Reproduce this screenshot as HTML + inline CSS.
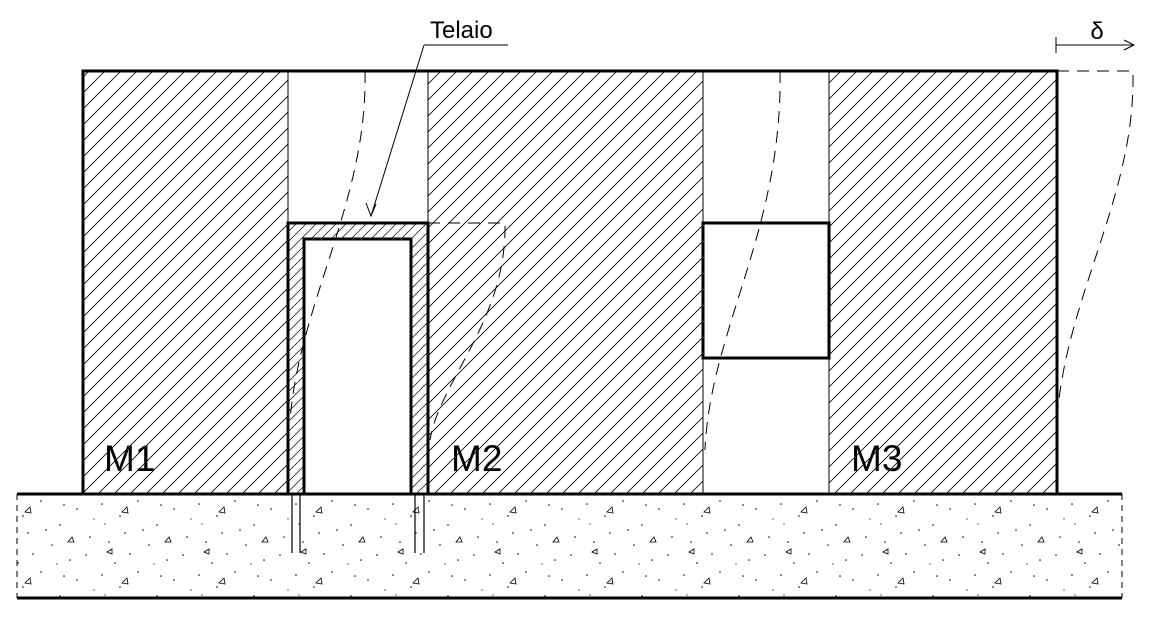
<!DOCTYPE html>
<html><head><meta charset="utf-8"><style>
html,body{margin:0;padding:0;background:#fff;}
svg{display:block;}
text{font-family:"Liberation Sans",sans-serif;}
</style></head><body>
<svg width="1149" height="619" viewBox="0 0 1149 619" xmlns="http://www.w3.org/2000/svg">
<defs>
<pattern id="h" patternUnits="userSpaceOnUse" width="16" height="16">
<path d="M-2,18 L18,-2 M-4,4 L4,-4 M12,20 L20,12" stroke="#000" stroke-width="0.8"/>
</pattern>
<pattern id="hf" patternUnits="userSpaceOnUse" width="10" height="10">
<path d="M-2,12 L12,-2 M-3,3 L3,-3 M7,13 L13,7" stroke="#000" stroke-width="0.7"/>
</pattern>
<pattern id="c" patternUnits="userSpaceOnUse" width="97" height="71">
<g fill="#000">
<circle cx="5" cy="7" r="0.8"/><circle cx="23" cy="19" r="0.8"/><circle cx="41" cy="4" r="0.8"/>
<circle cx="60" cy="28" r="0.8"/><circle cx="77" cy="12" r="0.8"/><circle cx="90" cy="40" r="0.8"/>
<circle cx="12" cy="45" r="0.8"/><circle cx="33" cy="57" r="0.8"/><circle cx="52" cy="48" r="0.8"/>
<circle cx="70" cy="63" r="0.8"/><circle cx="86" cy="58" r="0.8"/><circle cx="18" cy="66" r="0.8"/>
<circle cx="46" cy="33" r="0.8"/><circle cx="64" cy="8" r="0.8"/><circle cx="28" cy="36" r="0.8"/>
<circle cx="8" cy="27" r="0.6"/><circle cx="94" cy="22" r="0.6"/><circle cx="57" cy="67" r="0.6"/>
</g>
<g fill="none" stroke="#000" stroke-width="0.8">
<path d="M30,10 l-5,5 l6,1 z"/><path d="M72,40 l-4,5 l6,0 z"/><path d="M10,55 l5,-3 l0,5 z"/>
</g>
</pattern>
</defs>
<rect x="17" y="494" width="1105" height="104" fill="url(#c)"/>
<line x1="17" y1="598" x2="1122" y2="598" stroke="#000" stroke-width="3"/>
<line x1="17" y1="494" x2="17" y2="598" stroke="#000" stroke-width="1" stroke-dasharray="6,5"/>
<line x1="1122" y1="494" x2="1122" y2="598" stroke="#000" stroke-width="1" stroke-dasharray="6,5"/>
<rect x="83" y="71" width="205" height="423" fill="url(#h)"/>
<rect x="428" y="71" width="275" height="423" fill="url(#h)"/>
<rect x="829" y="71" width="228" height="423" fill="url(#h)"/>
<path d="M288,223 H428 V494 H411 V239 H304 V494 H288 Z" fill="url(#hf)"/>
<rect x="703" y="223" width="126" height="135" fill="#fff" stroke="#000" stroke-width="3"/>
<path d="M288,494 V223 H428 V494" fill="none" stroke="#000" stroke-width="3"/>
<path d="M304,494 V239 H411 V494" fill="none" stroke="#000" stroke-width="3"/>
<path d="M83,494 V71 H1057 V494" fill="none" stroke="#000" stroke-width="3"/>
<line x1="288" y1="71" x2="288" y2="223" stroke="#000" stroke-width="1"/>
<line x1="428" y1="71" x2="428" y2="223" stroke="#000" stroke-width="1"/>
<line x1="703" y1="71" x2="703" y2="223" stroke="#000" stroke-width="1"/>
<line x1="829" y1="71" x2="829" y2="223" stroke="#000" stroke-width="1"/>
<line x1="703" y1="358" x2="703" y2="494" stroke="#000" stroke-width="1"/>
<line x1="829" y1="358" x2="829" y2="494" stroke="#000" stroke-width="1"/>
<line x1="17" y1="494" x2="1122" y2="494" stroke="#000" stroke-width="3"/>
<g stroke="#000" stroke-width="1.2">
<line x1="292" y1="494" x2="292" y2="553"/><line x1="300" y1="494" x2="300" y2="553"/>
<line x1="415" y1="494" x2="415" y2="553"/><line x1="424" y1="494" x2="424" y2="553"/>
</g>
<g fill="none" stroke="#000" stroke-width="1" stroke-dasharray="12,8">
<path d="M1057,71 H1133 V80 C1133,200 1065,300 1057,420"/>
<path d="M365,71 C368,200 300,300 290,420"/>
<path d="M428,223 H505 C507,320 440,380 430,440"/>
<path d="M780,71 C783,230 710,330 705,450"/>
</g>
<line x1="1056" y1="37" x2="1056" y2="53" stroke="#000" stroke-width="1"/>
<line x1="1056" y1="45" x2="1134" y2="45" stroke="#000" stroke-width="1"/>
<path d="M1124,40 L1134,45 L1124,50" fill="none" stroke="#000" stroke-width="1"/>
<text x="1097" y="39" font-family="Liberation Serif,serif" font-size="24" text-anchor="middle">δ</text>
<text x="430" y="38" font-size="24">Telaio</text>
<line x1="424" y1="45" x2="508" y2="45" stroke="#000" stroke-width="1"/>
<line x1="424" y1="45" x2="371" y2="216" stroke="#000" stroke-width="1"/>
<path d="M366,203 L371,216 L376,204" fill="none" stroke="#000" stroke-width="1"/>
<text x="104" y="471" font-size="37">M1</text>
<text x="451" y="471" font-size="37">M2</text>
<text x="851" y="471" font-size="37">M3</text>
</svg>
</body></html>
